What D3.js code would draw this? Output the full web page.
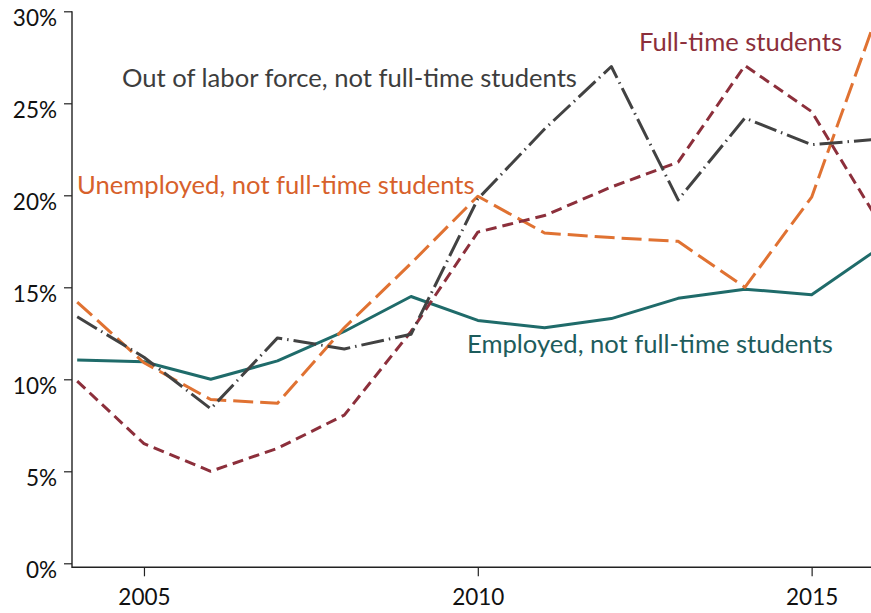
<!DOCTYPE html>
<html>
<head>
<meta charset="utf-8">
<script src="https://cdn.jsdelivr.net/npm/d3@7"></script>
<style>
    body { margin: 0; background: #fff; }
    svg { display: block; font-family: Lato, sans-serif; }
</style>
</head>
<body>
<svg class="chart" width="871" height="613"></svg>
<script>
// ---- Data (share of group, %) ----
const years = [2004, 2005, 2006, 2007, 2008, 2009, 2010, 2011, 2012, 2013, 2014, 2015, 2016];
const employed   = [11.05, 10.95, 10.0, 11.0, 12.6, 14.5, 13.2, 12.8, 13.3, 14.4, 14.9, 14.6, 17.1];
const unemployed = [14.2, 10.9, 8.9, 8.7, 12.8, 16.3, 19.95, 17.95, 17.7, 17.5, 15.0, 19.9, 30.0];
const fullTime   = [9.9, 6.5, 5.0, 6.25, 8.05, 12.6, 18.0, 18.9, 20.45, 21.8, 27.05, 24.55, 18.6];
const outOfLabor = [13.4, 11.2, 8.4, 12.25, 11.65, 12.45, 19.8, 23.6, 27.0, 19.75, 24.2, 22.75, 23.05];
const yTicks = [0, 5, 10, 15, 20, 25, 30];
const xTicks = [2005, 2010, 2015];

const series = [
    {name: "Employed, not full-time students", values: employed,
     color: "#1f6b6a", text: "#1d5c5c", dash: null, lx: 467, ly: 353},
    {name: "Unemployed, not full-time students", values: unemployed,
     color: "#e07232", text: "#d7612b", dash: "20,7", lx: 77, ly: 194},
    {name: "Full-time students", values: fullTime,
     color: "#8c2f3b", text: "#8c2f3b", dash: "11,6", lx: 639, ly: 51},
    {name: "Out of labor force, not full-time students", values: outOfLabor,
     color: "#424242", text: "#3d3d3d", dash: "23,5,1.5,5", lx: 122, ly: 87}
];

// ---- Scales ----
const svg = d3.select("svg.chart");
const axisX = 72;
const x = d3.scaleLinear().domain([2004, 2016]).range([77.2, 878.4]);
const y = d3.scaleLinear().domain([0, 30]).range([563.3, 11.3]);
const baseY = y(0) + 4;

// ---- Axes ----
const yAxis = svg.append("g")
    .attr("transform", `translate(${axisX},0)`)
    .call(d3.axisLeft(y).tickValues(yTicks).tickSize(8).tickPadding(7)
            .tickFormat(d => d + "%"));
yAxis.select(".domain").remove();
yAxis.selectAll("line").attr("stroke", "#222").attr("stroke-width", 1.2);
yAxis.selectAll("text")
    .attr("dy", "0.62em")
    .attr("fill", "#111")
    .style("font-family", "Lato, sans-serif")
    .style("font-size", "22.5px");

const xAxis = svg.append("g")
    .attr("transform", `translate(0,${baseY})`)
    .call(d3.axisBottom(x).tickValues(xTicks).tickSize(9)
            .tickFormat(d3.format("d")));
xAxis.select(".domain").remove();
xAxis.selectAll("line").attr("stroke", "#222").attr("stroke-width", 1.2);
xAxis.selectAll("text")
    .attr("y", 38)
    .attr("dy", 0)
    .attr("fill", "#111")
    .style("font-family", "Lato, sans-serif")
    .style("font-size", "22.5px");

// axis lines drawn separately so they meet at the corner
svg.append("line")
    .attr("x1", axisX).attr("x2", axisX)
    .attr("y1", y(30)).attr("y2", baseY + 0.6)
    .attr("stroke", "#222").attr("stroke-width", 1.4);
svg.append("line")
    .attr("x1", axisX).attr("x2", 871)
    .attr("y1", baseY).attr("y2", baseY)
    .attr("stroke", "#222").attr("stroke-width", 1.4);

// ---- Lines ----
const line = d3.line()
    .x((d, i) => x(years[i]))
    .y(d => y(d));

svg.append("g")
    .selectAll("path")
    .data(series)
    .join("path")
    .attr("d", d => line(d.values))
    .attr("fill", "none")
    .attr("stroke", d => d.color)
    .attr("stroke-width", 3)
    .attr("stroke-linejoin", "round")
    .attr("stroke-dasharray", d => d.dash);

// ---- Direct labels ----
svg.append("g")
    .selectAll("text")
    .data(series)
    .join("text")
    .attr("x", d => d.lx)
    .attr("y", d => d.ly)
    .attr("fill", d => d.text)
    .style("font-size", "25.6px")
    .text(d => d.name);
</script>
</body>
</html>
